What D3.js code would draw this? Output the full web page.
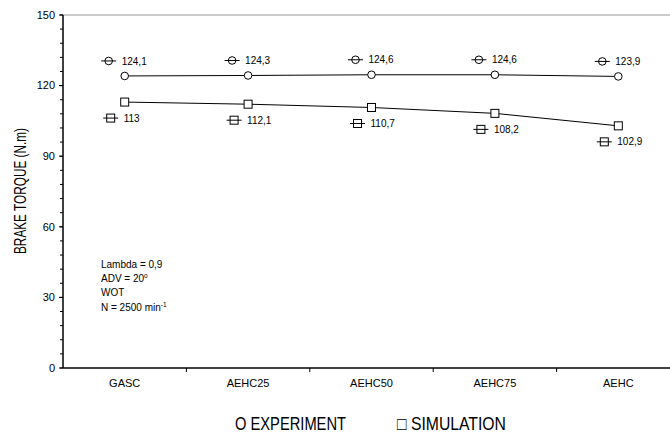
<!DOCTYPE html>
<html>
<head>
<meta charset="utf-8">
<script src="https://cdn.jsdelivr.net/npm/d3@7"></script>
<style>
  body { margin: 0; background: #fff; }
  svg text { font-family: "Liberation Sans", Arial, sans-serif; fill: #000; }
</style>
</head>
<body>
<div id="chart"></div>
<script>
const categories = ["GASC", "AEHC25", "AEHC50", "AEHC75", "AEHC"];
const experiment = [124.1, 124.3, 124.6, 124.6, 123.9];
const simulation = [113, 112.1, 110.7, 108.2, 102.9];
const yTicks = [0, 30, 60, 90, 120, 150];
const notes = ["Lambda = 0,9", "ADV = 20", "WOT", "N = 2500 min"];

const width = 670, height = 434;
const margin = { top: 15, left: 63, bottom: 66 };

const svg = d3.select("#chart")
    .append("svg")
    .attr("width", width)
    .attr("height", height);

const x = d3.scaleBand()
    .domain(categories)
    .range([margin.left, margin.left + 5 * 123.4]);

const y = d3.scaleLinear()
    .domain([0, 150])
    .range([height - margin.bottom, margin.top]);

const cx = d => x(d) + x.bandwidth() / 2;
const fmt = v => String(v).replace(".", ",");

// top frame line
svg.append("line")
    .attr("x1", margin.left).attr("x2", width)
    .attr("y1", y(150)).attr("y2", y(150))
    .attr("stroke", "#999").attr("stroke-width", 1);

// y axis
svg.append("line")
    .attr("x1", margin.left).attr("x2", margin.left)
    .attr("y1", y(0)).attr("y2", y(150))
    .attr("stroke", "#000").attr("stroke-width", 1.5);

svg.selectAll(".minor")
    .data(d3.range(0, 151, 6))
    .enter()
    .append("line")
    .attr("x1", margin.left - 3).attr("x2", margin.left)
    .attr("y1", d => y(d)).attr("y2", d => y(d))
    .attr("stroke", "#000");

svg.selectAll(".major")
    .data(yTicks)
    .enter()
    .append("line")
    .attr("x1", margin.left - 4).attr("x2", margin.left)
    .attr("y1", d => y(d)).attr("y2", d => y(d))
    .attr("stroke", "#000");

svg.selectAll(".ylab")
    .data(yTicks)
    .enter()
    .append("text")
    .attr("x", margin.left - 8)
    .attr("y", d => y(d))
    .attr("dy", "0.35em")
    .attr("text-anchor", "end")
    .style("font-size", "11px")
    .text(d => d);

// x axis
svg.append("line")
    .attr("x1", margin.left).attr("x2", width)
    .attr("y1", y(0)).attr("y2", y(0))
    .attr("stroke", "#000").attr("stroke-width", 1.5);

svg.selectAll(".xtick")
    .data(categories.slice(1))
    .enter()
    .append("line")
    .attr("x1", d => x(d)).attr("x2", d => x(d))
    .attr("y1", y(0)).attr("y2", y(0) + 4)
    .attr("stroke", "#000");

svg.selectAll(".xlab")
    .data(categories)
    .enter()
    .append("text")
    .attr("x", d => cx(d))
    .attr("y", y(0) + 19)
    .attr("text-anchor", "middle")
    .style("font-size", "11px")
    .text(d => d);

// y title (narrow face in the original, squeezed to its width)
svg.append("text")
    .attr("transform", `translate(26,191) rotate(-90)`)
    .attr("text-anchor", "middle")
    .attr("textLength", 126)
    .attr("lengthAdjust", "spacingAndGlyphs")
    .style("font-size", "17px")
    .text("BRAKE TORQUE (N.m)");

// series
function drawSeries(values, shape, dx, dy) {
    const pts = categories.map((c, i) => [cx(c), y(values[i]), values[i]]);

    svg.append("path")
        .attr("fill", "none")
        .attr("stroke", "#000")
        .attr("stroke-width", 1)
        .attr("d", d3.line()(pts.map(p => [p[0], p[1]])));

    const marker = (g, px, py) => {
        if (shape === "circle") {
            g.append("circle")
                .attr("cx", px).attr("cy", py).attr("r", 3.8)
                .attr("fill", "#fff").attr("stroke", "#000");
        } else {
            g.append("rect")
                .attr("x", px - 4).attr("y", py - 4)
                .attr("width", 8).attr("height", 8)
                .attr("fill", "#fff").attr("stroke", "#000");
        }
    };

    const g = svg.append("g");
    pts.forEach(p => marker(g, p[0], p[1]));

    // data labels with legend key
    pts.forEach(p => {
        const lx = p[0] + dx, ly = p[1] + dy;
        marker(g, lx, ly);
        g.append("line")
            .attr("x1", lx - 7.5).attr("x2", lx + 7.5)
            .attr("y1", ly).attr("y2", ly)
            .attr("stroke", "#000");
        g.append("text")
            .attr("x", lx + 13)
            .attr("y", ly)
            .attr("dy", "0.36em")
            .style("font-size", "10px")
            .text(fmt(p[2]));
    });
}

drawSeries(experiment, "circle", -16, -15);
drawSeries(simulation, "square", -14, 16);

// notes
const noteG = svg.append("g").style("font-size", "10px");
notes.forEach((t, i) => {
    const txt = noteG.append("text")
        .attr("x", 101)
        .attr("y", 268 + i * 14.2)
        .text(t);
    if (i === 1) txt.append("tspan").attr("dy", "-4").style("font-size", "6.5px").text("o");
    if (i === 3) txt.append("tspan").attr("dy", "-4").style("font-size", "6.5px").text("-1");
});

// legend
svg.append("text")
    .attr("x", 235)
    .attr("y", 430)
    .attr("textLength", 111)
    .attr("lengthAdjust", "spacingAndGlyphs")
    .style("font-size", "18px")
    .text("O EXPERIMENT");

svg.append("text")
    .attr("x", 397)
    .attr("y", 430)
    .attr("textLength", 109)
    .attr("lengthAdjust", "spacingAndGlyphs")
    .style("font-size", "18px")
    .text("\u25A1 SIMULATION");
</script>
</body>
</html>
